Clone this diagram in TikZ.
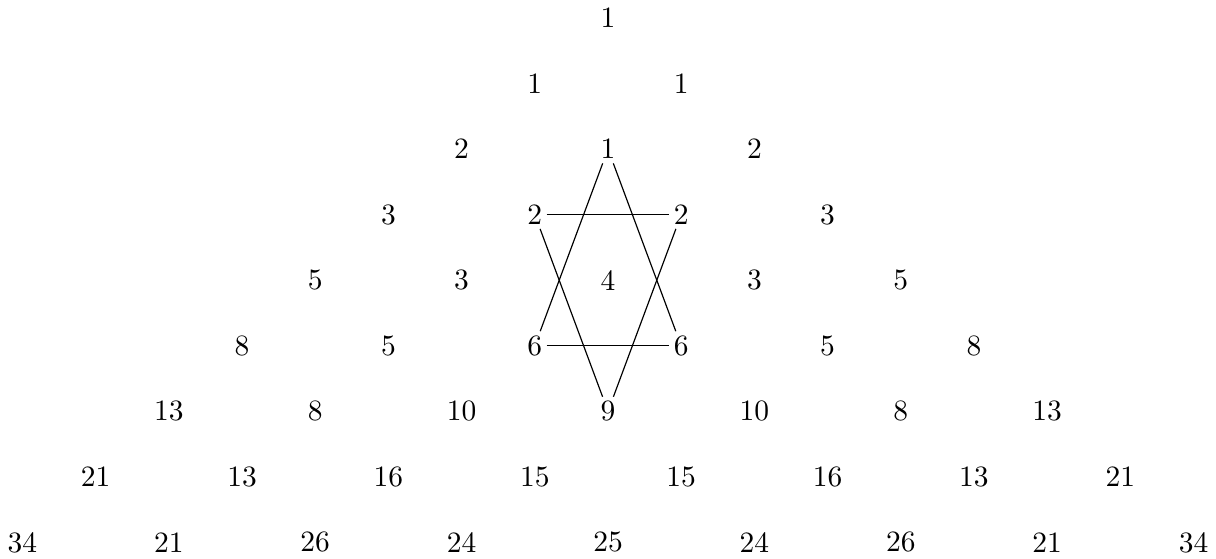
\documentclass[tikz,border=0pt]{standalone}
\usepackage{tikz}

\begin{document}
\begin{tikzpicture}[
  x=24.81pt, y=-22.22pt,
  num/.style={inner sep=1.3pt},
  star/.style={thin, draw=black}
]
  \useasboundingbox (-8.307,-0.2745) rectangle (8.307,8.238);

  % Hosoya triangle, one list per row
  \foreach \row [count=\r from 0] in {{1},{1,1},{2,1,2},{3,2,2,3},{5,3,4,3,5},
      {8,5,6,6,5,8},{13,8,10,9,10,8,13},{21,13,16,15,15,16,13,21},
      {34,21,26,24,25,24,26,21,34}} {
    \foreach \val [count=\c from 0] in \row {
      \node[num] (n\r-\c) at ({2*\c-\r},\r) {\val};
    }
  }

  % the star
  \draw[star] (n2-1) -- (n5-2);
  \draw[star] (n2-1) -- (n5-3);
  \draw[star] (n5-2) -- (n5-3);
  \draw[star] (n3-1) -- (n3-2);
  \draw[star] (n3-1) -- (n6-3);
  \draw[star] (n3-2) -- (n6-3);
\end{tikzpicture}
\end{document}
